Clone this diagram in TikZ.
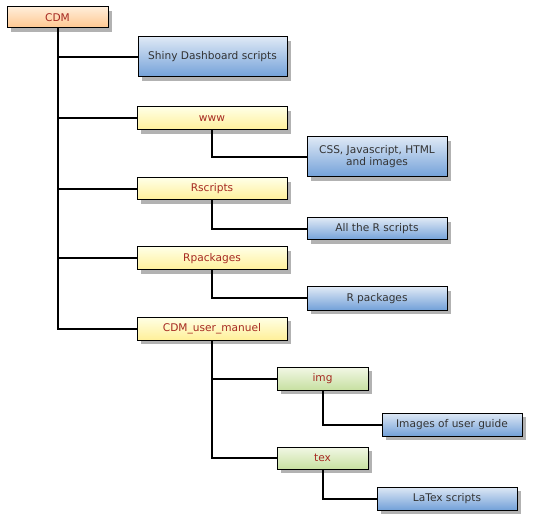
\documentclass[tikz,border=0pt]{standalone}
\usepackage{fontspec}
\setmainfont{DejaVu Sans}
\usepackage{tikz}
\usetikzlibrary{shadows}
\definecolor{ffeedd}{rgb}{1.,0.93,0.85}
\definecolor{ffc890}{rgb}{1.,0.78,0.56}
\definecolor{ffffe6}{rgb}{1.,1.,0.9}
\definecolor{fff09a}{rgb}{1.,0.94,0.6}
\definecolor{dde8f5}{rgb}{0.87,0.91,0.96}
\definecolor{72a0d8}{rgb}{0.45,0.63,0.85}
\definecolor{f2f8e6}{rgb}{0.95,0.97,0.9}
\definecolor{c8e0a0}{rgb}{0.78,0.88,0.63}
\definecolor{aa2222}{rgb}{0.65,0.16,0.13}
\definecolor{333333}{rgb}{0.2,0.2,0.2}
\tikzset{
  box/.style={draw=black,line width=1pt,inner sep=0pt,font=\fontsize{10.6}{12}\selectfont,align=center,
    drop shadow={shadow xshift=4pt,shadow yshift=-4pt,fill=black!30,opacity=1}},
  rootbox/.style={box,top color=ffeedd,bottom color=ffc890,text=aa2222},
  dirbox/.style={box,top color=ffffe6,bottom color=fff09a,text=aa2222},
  subbox/.style={box,top color=f2f8e6,bottom color=c8e0a0,text=aa2222},
  infobox/.style={box,top color=dde8f5,bottom color=72a0d8,text=333333},
  link/.style={line width=2pt,line cap=rect}
}
\begin{document}
\begin{tikzpicture}[line join=miter,x=1pt,y=-1pt]
\useasboundingbox (0,0) rectangle (538,529);
\node[rootbox,minimum width=101pt,minimum height=21pt] (cdm) at (57.5,17.5) {CDM};
\node[infobox,minimum width=149pt,minimum height=40pt] (shiny) at (212.5,57) {Shiny Dashboard scripts};
\node[dirbox,minimum width=150pt,minimum height=23pt] (www) at (212,118.5) {www};
\node[infobox,minimum width=140pt,minimum height=40pt] (css) at (377,157) {CSS, Javascript, HTML\\and images};
\node[dirbox,minimum width=150pt,minimum height=22pt] (rscripts) at (212,189) {Rscripts};
\node[infobox,minimum width=140pt,minimum height=22pt] (allr) at (377,229) {All the R scripts};
\node[dirbox,minimum width=150pt,minimum height=23pt] (rpackages) at (212,258.5) {Rpackages};
\node[infobox,minimum width=140pt,minimum height=23pt] (rpack) at (377,298.5) {R packages};
\node[dirbox,minimum width=150pt,minimum height=23pt] (manuel) at (212,328.5) {CDM\_user\_manuel};
\node[subbox,minimum width=91pt,minimum height=23pt] (img) at (322.5,378.5) {img};
\node[infobox,minimum width=140pt,minimum height=23pt] (guide) at (452,424.5) {Images of user guide};
\node[subbox,minimum width=91pt,minimum height=22pt] (tex) at (322.5,458) {tex};
\node[infobox,minimum width=140pt,minimum height=23pt] (latex) at (447,498.5) {LaTex scripts};
% tree
\draw[link] (cdm.south) |- (shiny.west);
\draw[link] (cdm.south) |- (www.west);
\draw[link] (cdm.south) |- (rscripts.west);
\draw[link] (cdm.south) |- (rpackages.west);
\draw[link] (cdm.south) |- (manuel.west);
\draw[link] (www.south) |- (css.west);
\draw[link] (rscripts.south) |- (allr.west);
\draw[link] (rpackages.south) |- (rpack.west);
\draw[link] (manuel.south) |- (img.west);
\draw[link] (manuel.south) |- (tex.west);
\draw[link] (img.south) |- (guide.west);
\draw[link] (tex.south) |- (latex.west);
\end{tikzpicture}
\end{document}
